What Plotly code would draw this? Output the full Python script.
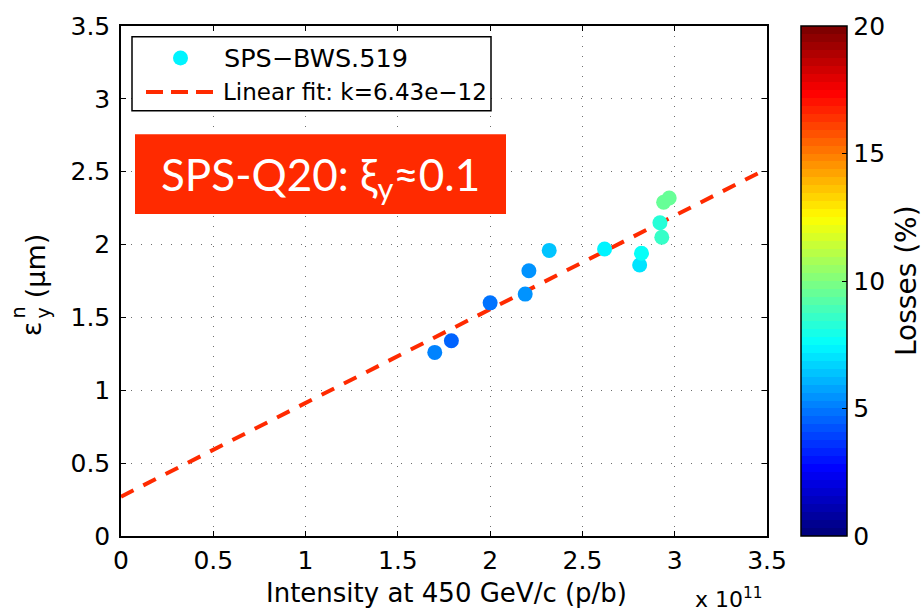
import plotly.graph_objects as go

# Measured beam: intensity (units of 1e11 p/b), vertical emittance (um), losses (%)
intensity = [1.70, 1.79, 2.00, 2.19, 2.21, 2.32, 2.62, 2.81, 2.82, 2.92, 2.93, 2.94, 2.97]
emittance = [1.26, 1.34, 1.60, 1.66, 1.82, 1.96, 1.97, 1.86, 1.94, 2.15, 2.05, 2.29, 2.32]
losses = [5.0, 4.5, 4.7, 5.5, 5.6, 6.3, 7.4, 7.0, 7.8, 8.3, 8.5, 9.5, 9.4]

# Linear fit: slope in um per p/b, intercept in um
fit_k = 6.43e-12
fit_b = 0.27
x_scale = 1e11
fit_x = [0.0, 3.5]
fit_y = [fit_b + fit_k * x_scale * v for v in fit_x]

x_ticks = [0, 0.5, 1, 1.5, 2, 2.5, 3, 3.5]
y_ticks = [0, 0.5, 1, 1.5, 2, 2.5, 3, 3.5]
c_ticks = [0, 5, 10, 15, 20]

W, H = 923, 613
L, R, T, B = 121, 767, 18, 536


def px(p):
    return (p - L) / (R - L)


def py(p):
    return (B - p) / (B - T)


def jet(t):
    def c(v):
        return max(0.0, min(1.0, v))
    r = c(min(4 * t - 1.5, -4 * t + 4.5))
    g = c(min(4 * t - 0.5, -4 * t + 3.5))
    b = c(min(4 * t + 0.5, -4 * t + 2.5))
    return f"rgb({int(r*255)},{int(g*255)},{int(b*255)})"


# 64-step banded jet colormap
n = 64
jet_scale = []
for i in range(n):
    col = jet(i / (n - 1))
    jet_scale.append([i / n, col])
    jet_scale.append([(i + 1) / n, col])

RED = "rgb(255,42,0)"
FONT = "DejaVu Sans"
TICK_SIZE = 25

fig = go.Figure()

fig.add_trace(go.Scatter(
    x=fit_x, y=fit_y, mode="lines",
    line=dict(color=RED, width=4, dash="14px,11px"),
    showlegend=False, hoverinfo="skip",
))

fig.add_trace(go.Scatter(
    x=intensity, y=emittance, mode="markers",
    marker=dict(
        size=15, color=losses, colorscale=jet_scale, cmin=0, cmax=20,
        line=dict(width=0),
        showscale=True,
        colorbar=dict(
            x=px(801), xanchor="left", xref="paper",
            y=0.5, yanchor="middle", len=1.0, lenmode="fraction",
            thickness=46, thicknessmode="pixels",
            outlinecolor="black", outlinewidth=1.5,
            tickvals=c_ticks, ticks="inside", ticklen=5, tickcolor="black",
            tickfont=dict(family=FONT, size=TICK_SIZE, color="black"),
            ypad=0, xpad=0,
        ),
    ),
    showlegend=False,
))

axis_common = dict(
    showline=True, linecolor="black", linewidth=1.5, mirror="ticks",
    ticks="inside", ticklen=5, tickcolor="black",
    showgrid=True, gridcolor="rgb(110,110,110)", gridwidth=1, griddash="1px,9px",
    zeroline=False,
    tickfont=dict(family=FONT, size=TICK_SIZE, color="black"),
)

fig.update_xaxes(range=[0, 3.5], tickvals=x_ticks,
                 ticktext=[f"{v:g}" for v in x_ticks], ticklabelstandoff=1,
                 **axis_common)
fig.update_yaxes(range=[0, 3.5], tickvals=y_ticks,
                 ticktext=[f"{v:g}" for v in y_ticks], ticklabelstandoff=4,
                 **axis_common)

shapes = []
annotations = []

# Legend box
shapes.append(dict(type="rect", xref="paper", yref="paper",
                   x0=px(132), x1=px(491), y0=py(104), y1=py(29),
                   line=dict(color="black", width=1.5), fillcolor="white"))
shapes.append(dict(type="circle", xref="paper", yref="paper",
                   x0=px(173), x1=px(188), y0=py(58), y1=py(43),
                   line=dict(width=0), fillcolor=jet(7.3 / 20)))
shapes.append(dict(type="line", xref="paper", yref="paper",
                   x0=px(146), x1=px(214), y0=py(85), y1=py(85),
                   line=dict(color=RED, width=4, dash="17px,8px")))
annotations.append(dict(text="SPS\u2212BWS.519", xref="paper", yref="paper",
                        x=px(222), y=py(50), xanchor="left", yanchor="middle",
                        showarrow=False, font=dict(family=FONT, size=25.5, color="black")))
annotations.append(dict(text="Linear fit: k=6.43e\u221212", xref="paper", yref="paper",
                        x=px(221), y=py(85), xanchor="left", yanchor="middle",
                        showarrow=False, font=dict(family=FONT, size=23, color="black")))

# Red label box
shapes.append(dict(type="rect", xref="paper", yref="paper",
                   x0=px(135), x1=px(506), y0=py(209), y1=py(128),
                   line=dict(width=0), fillcolor=RED))
annotations.append(dict(text="SPS-Q20: \u03be<sub>y</sub>\u22480.1", xref="paper", yref="paper",
                        x=px(320), y=py(172), xanchor="center", yanchor="middle",
                        showarrow=False, font=dict(family="Lato", size=44, color="white")))

# Axis titles
annotations.append(dict(text="Intensity at 450 GeV/c (p/b)", xref="paper", yref="paper",
                        x=px(446), y=py(594), xanchor="center", yanchor="middle",
                        showarrow=False, font=dict(family=FONT, size=26, color="black")))
annotations.append(dict(text="x 10<sup>11</sup>", xref="paper", yref="paper",
                        x=px(693), y=py(599), xanchor="left", yanchor="middle",
                        showarrow=False, font=dict(family=FONT, size=22, color="black")))

annotations.append(dict(text="\u03b5", xref="paper", yref="paper", textangle=-90,
                        x=px(31), y=py(326), xanchor="center", yanchor="middle",
                        showarrow=False, font=dict(family=FONT, size=27, color="black")))
annotations.append(dict(text="n", xref="paper", yref="paper", textangle=-90,
                        x=px(18), y=py(309), xanchor="center", yanchor="middle",
                        showarrow=False, font=dict(family=FONT, size=19, color="black")))
annotations.append(dict(text="y", xref="paper", yref="paper", textangle=-90,
                        x=px(43), y=py(310), xanchor="center", yanchor="middle",
                        showarrow=False, font=dict(family=FONT, size=19, color="black")))
annotations.append(dict(text="(\u03bcm)", xref="paper", yref="paper", textangle=-90,
                        x=px(35), y=py(262), xanchor="center", yanchor="middle",
                        showarrow=False, font=dict(family=FONT, size=27, color="black")))

annotations.append(dict(text="Losses (%)", xref="paper", yref="paper", textangle=-90,
                        x=px(906), y=py(277), xanchor="center", yanchor="middle",
                        showarrow=False, font=dict(family=FONT, size=28, color="black")))

fig.update_layout(
    width=W, height=H,
    margin=dict(l=L, r=W - R, t=T, b=H - B, pad=0),
    paper_bgcolor="white", plot_bgcolor="white",
    shapes=shapes, annotations=annotations,
    showlegend=False,
)

fig.write_html("out.html")
